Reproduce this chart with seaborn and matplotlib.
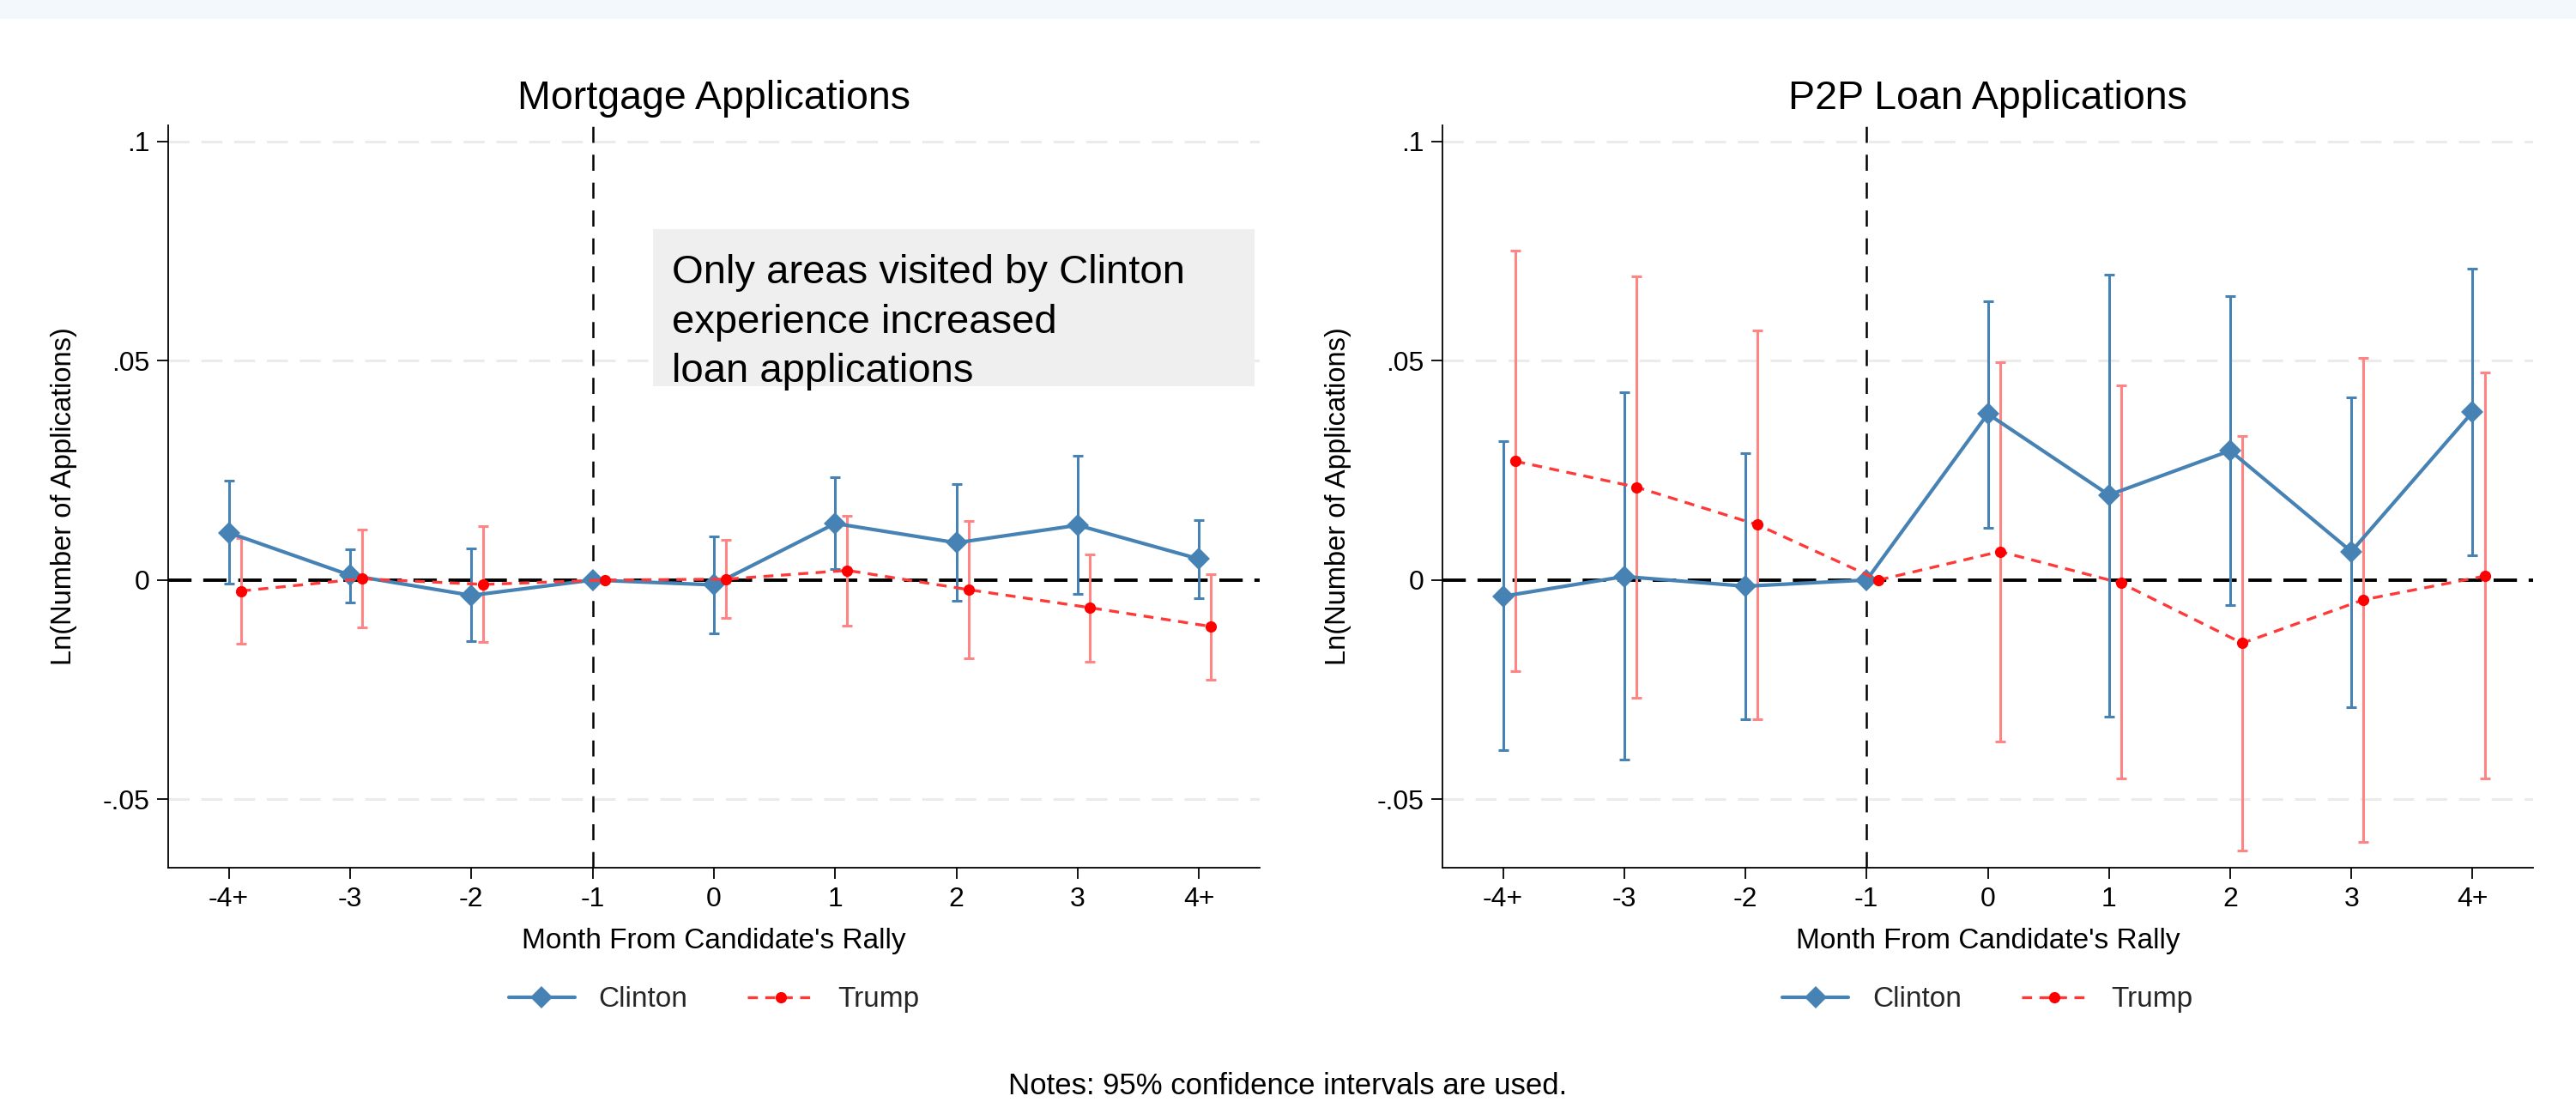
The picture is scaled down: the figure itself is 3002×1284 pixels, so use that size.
import numpy as np
import pandas as pd
import matplotlib
matplotlib.use("Agg")
import matplotlib.pyplot as plt
from matplotlib.patches import Rectangle
import seaborn as sns

# ---------------- data ----------------
months = ['-4+', '-3', '-2', '-1', '0', '1', '2', '3', '4+']
nan = np.nan

mort_clinton = [0.0108, 0.0011, -0.0035, 0.0, -0.0011, 0.0129, 0.0085, 0.0125, 0.0048]
mort_clinton_lo = [-0.0009, -0.0051, -0.0140, nan, -0.0121, 0.0026, -0.0048, -0.0031, -0.0041]
mort_clinton_hi = [0.0226, 0.0071, 0.0072, nan, 0.0099, 0.0235, 0.0219, 0.0283, 0.0137]
mort_trump = [-0.0025, 0.0003, -0.0010, 0.0, 0.0002, 0.0022, -0.0022, -0.0063, -0.0106]
mort_trump_lo = [-0.0145, -0.0108, -0.0142, nan, -0.0087, -0.0104, -0.0178, -0.0186, -0.0227]
mort_trump_hi = [0.0096, 0.0115, 0.0123, nan, 0.0091, 0.0147, 0.0134, 0.0059, 0.0014]

p2p_clinton = [-0.0037, 0.0008, -0.0014, 0.0, 0.0379, 0.0194, 0.0295, 0.0065, 0.0383]
p2p_clinton_lo = [-0.0388, -0.0409, -0.0317, nan, 0.0120, -0.0311, -0.0057, -0.0290, 0.0056]
p2p_clinton_hi = [0.0317, 0.0428, 0.0289, nan, 0.0636, 0.0697, 0.0647, 0.0417, 0.0710]
p2p_trump = [0.0271, 0.0212, 0.0126, 0.0, 0.0065, -0.0007, -0.0144, -0.0045, 0.0009]
p2p_trump_lo = [-0.0208, -0.0269, -0.0317, nan, -0.0369, -0.0453, -0.0616, -0.0597, -0.0452]
p2p_trump_hi = [0.0752, 0.0692, 0.0569, nan, 0.0497, 0.0443, 0.0329, 0.0506, 0.0474]

yticks = [-0.05, 0, 0.05, 0.1]
ytick_labels = ['-.05', '0', '.05', '.1']

panel_titles = ['Mortgage Applications', 'P2P Loan Applications']
series_names = ['Clinton', 'Trump']
note_text = 'Notes: 95% confidence intervals are used.'
box_text = 'Only areas visited by Clinton\nexperience increased\nloan applications'

# ---------------- style ----------------
sns.set_theme(style='white')
plt.rcParams['font.family'] = ['Liberation Sans', 'DejaVu Sans']

BLUE = '#4682b4'
RED_LINE = '#ff3838'
RED_PT = '#ff0000'
RED_CI = '#ff8585'
GRID = '#ebebeb'

W, H = 3002, 1284
fig = plt.figure(figsize=(W / 100, H / 100), dpi=100)
fig.patch.set_facecolor('white')
fig.patches.append(Rectangle((0, 1 - 22 / H), 1, 22 / H, transform=fig.transFigure,
                             facecolor='#f3f8fc', edgecolor='none', zorder=0))

ax_bottom = 1 - 1011 / H
ax_h = 865 / H
ax1 = fig.add_axes([196 / W, ax_bottom, 1272 / W, ax_h])
ax2 = fig.add_axes([1681 / W, ax_bottom, 1271 / W, ax_h])

panels = [
    (ax1, mort_clinton, mort_clinton_lo, mort_clinton_hi, mort_trump, mort_trump_lo, mort_trump_hi),
    (ax2, p2p_clinton, p2p_clinton_lo, p2p_clinton_hi, p2p_trump, p2p_trump_lo, p2p_trump_hi),
]

idx = np.arange(len(months))
trump_shift = 0.1

for k, (ax, c, clo, chi, t, tlo, thi) in enumerate(panels):
    c = np.array(c); clo = np.array(clo); chi = np.array(chi)
    t = np.array(t); tlo = np.array(tlo); thi = np.array(thi)
    xc = idx.astype(float)
    xt = idx + trump_shift

    # grid lines
    for yv in [-0.05, 0.05, 0.1]:
        ax.axhline(yv, color=GRID, lw=2.2, dashes=(8, 4.5), zorder=0.5)
    # zero line and reference month line
    ax.axhline(0, color='black', lw=2.8, dashes=(7, 3.5), zorder=1.5)
    ax.axvline(3, color='black', lw=1.8, dashes=(7.5, 5.5), zorder=1.5)

    # confidence intervals
    ax.errorbar(xc, c, yerr=[c - clo, chi - c], fmt='none', ecolor=BLUE,
                elinewidth=2.2, capsize=4.3, capthick=2.2, zorder=2)
    ax.errorbar(xt, t, yerr=[t - tlo, thi - t], fmt='none', ecolor=RED_CI,
                elinewidth=2.2, capsize=4.3, capthick=2.2, zorder=2.1)

    df_c = pd.DataFrame({'x': xc, 'y': c})
    df_t = pd.DataFrame({'x': xt, 'y': t})
    sns.lineplot(data=df_c, x='x', y='y', ax=ax, color=BLUE, lw=3.0, marker='D',
                 markersize=13, markerfacecolor=BLUE, markeredgecolor=BLUE,
                 markeredgewidth=0, label=series_names[0], errorbar=None, zorder=3)
    sns.lineplot(data=df_t, x='x', y='y', ax=ax, color=RED_LINE, lw=2.4,
                 linestyle=(0, (3.5, 2.6)), marker='o', markersize=9.5,
                 markerfacecolor=RED_PT, markeredgecolor=RED_PT, markeredgewidth=0,
                 label=series_names[1], errorbar=None, zorder=3.1)

    ax.set_xlim(-0.5, 8.5)
    ax.set_ylim(-0.0656, 0.1037)
    ax.set_xticks(idx)
    ax.set_xticklabels(months)
    ax.set_yticks(yticks)
    ax.set_yticklabels(ytick_labels)
    ax.grid(False)

    for s in ['top', 'right']:
        ax.spines[s].set_visible(False)
    for s in ['left', 'bottom']:
        ax.spines[s].set_color('black')
        ax.spines[s].set_linewidth(1.3)
    ax.tick_params(axis='both', which='major', length=9.5, width=1.3, color='black',
                   labelsize=23, labelcolor='black', pad=6, direction='out',
                   bottom=True, left=True)
    ax.tick_params(axis='y', labelrotation=0)

    ax.set_title(panel_titles[k], fontsize=33.5, color='black', pad=14)
    ax.set_xlabel("Month From Candidate's Rally", fontsize=24, color='black')
    ax.xaxis.set_label_coords(0.5, -0.1087)
    ax.xaxis.label.set_va('baseline')
    ax.set_ylabel('Ln(Number of Applications)', fontsize=23.5, color='black')
    ax.yaxis.set_label_coords(-0.0888, 0.5)
    ax.yaxis.label.set_va('baseline')

    handles, labels = ax.get_legend_handles_labels()
    ax.legend(handles, labels, loc='center', bbox_to_anchor=(0.5, -0.178), ncol=2,
              frameon=False, fontsize=24, handlelength=2.3, handletextpad=0.84,
              columnspacing=2.1)

# annotation box on the left panel
ax1.add_patch(Rectangle((0.4442, 0.649), 0.9953 - 0.4442, 0.8601 - 0.649,
                        transform=ax1.transAxes, facecolor='#efefef',
                        edgecolor='none', zorder=1))
ax1.text(0.4611, 0.8266, box_text, transform=ax1.transAxes, fontsize=34,
         va='top', ha='left', linespacing=1.4, color='black', zorder=4)

fig.text(0.5, 1 - 1275 / H, note_text, ha='center', va='baseline', fontsize=25,
         color='black')

fig.savefig('out.png', dpi=100, facecolor='white')
